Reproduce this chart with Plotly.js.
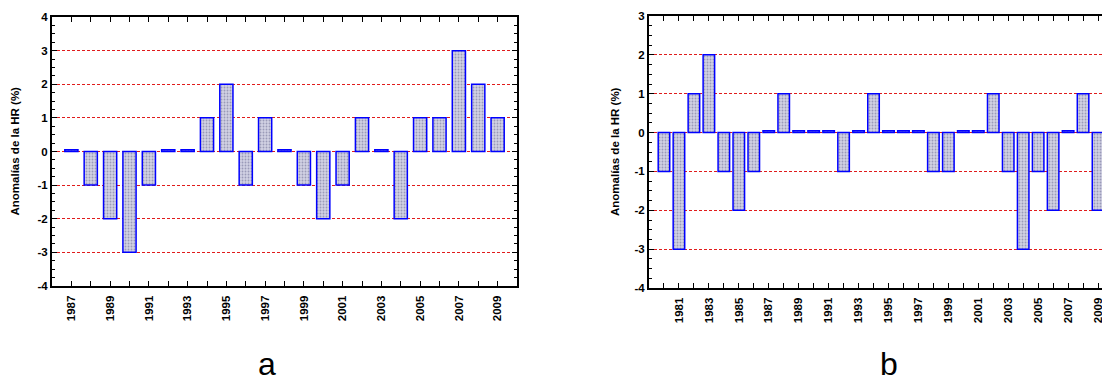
<!DOCTYPE html>
<html>
<head>
<meta charset="utf-8">
<script src="https://cdn.plot.ly/plotly-3.0.1.min.js"></script>
<style>
html,body{margin:0;padding:0;overflow:hidden;background:#fff;}
#chart{width:1130px;height:377px;}
</style>
</head>
<body>
<div id="chart"></div>
<script>
// Panel a data
const yearsA = [1987,1988,1989,1990,1991,1992,1993,1994,1995,1996,1997,1998,1999,2000,2001,2002,2003,2004,2005,2006,2007,2008,2009];
const valuesA = [0.05,-1,-2,-3,-1,0.05,0.05,1,2,-1,1,0.05,-1,-2,-1,1,0.05,-2,1,1,3,2,1];
// Panel b data
const yearsB = [1980,1981,1982,1983,1984,1985,1986,1987,1988,1989,1990,1991,1992,1993,1994,1995,1996,1997,1998,1999,2000,2001,2002,2003,2004,2005,2006,2007,2008,2009];
const valuesB = [-1,-3,1,2,-1,-2,-1,0.05,1,0.05,0.05,0.05,-1,0.05,1,0.05,0.05,0.05,-1,-1,0.05,0.05,1,-1,-3,-1,-2,0.05,1,-2];
const yTicksA = [-4,-3,-2,-1,0,1,2,3,4];
const yTicksB = [-4,-3,-2,-1,0,1,2,3];
const yTitle = 'Anomalías de la HR (%)';
const panelLabels = ['a','b'];

const W = 1130, H = 377;
const fontFam = 'Liberation Sans, Arial, sans-serif';
const tickFont = {family: fontFam, size: 11.5, color: '#000', weight: 'bold'};

function tickTexts(years){
  return years.map(y => (y % 2 === 1) ? String(y) : '');
}

const barMarker = {
  color: '#c6c6dc',
  pattern: {shape: '.', bgcolor: '#d2d2e4', fgcolor: '#9a9ab8', size: 3, solidity: 0.3},
  line: {color: '#0000ff', width: 1.5}
};

const traces = [
  {type:'bar', x: yearsA, y: valuesA, width: 0.68, marker: barMarker, xaxis:'x', yaxis:'y', hoverinfo:'x+y'},
  {type:'bar', x: yearsB, y: valuesB, width: 0.77, marker: barMarker, xaxis:'x2', yaxis:'y2', hoverinfo:'x+y'}
];

function xAxis(domain, range, years){
  return {
    domain: domain, range: range, tickmode:'array', tickvals: years, ticktext: tickTexts(years),
    tickangle: -90, tickfont: tickFont, ticks:'inside', ticklen: 5, tickwidth: 1, tickcolor:'#000',
    ticklabelstandoff: 3,
    showline: true, linecolor:'#000', linewidth: 2, mirror:'allticks', showgrid:false, zeroline:false,
    fixedrange: true
  };
}
function yAxis(domain, range, vals, anchor){
  return {
    domain: domain, range: range, anchor: anchor, tickmode:'array', tickvals: vals, ticktext: vals.map(String),
    tickfont: tickFont, ticks:'inside', ticklen: 5, tickwidth: 1, tickcolor:'#000',
    minor: {dtick: 0.25, ticks:'inside', ticklen: 3, tickcolor:'#000', showgrid:false},
    showline: true, linecolor:'#000', linewidth: 2, mirror:'allticks',
    showgrid: true, gridcolor:'#e01c1c', gridwidth: 1, griddash:'3px,2px', zeroline:false,
    fixedrange: true
  };
}

const layout = {
  width: W, height: H, margin:{l:0,r:0,t:0,b:0}, showlegend:false,
  paper_bgcolor:'#fff', plot_bgcolor:'#fff', bargap: 0,
  xaxis: xAxis([52/W, 517/W], [1986, 2010], yearsA),
  yaxis: yAxis([(H-286)/H, (H-17)/H], [-4, 4], yTicksA, 'x'),
  xaxis2: Object.assign(xAxis([649/W, 1113/W], [1979, 2010], yearsB), {anchor:'y2'}),
  yaxis2: yAxis([(H-288)/H, (H-16)/H], [-4, 3], yTicksB, 'x2'),
  annotations: [
    {xref:'paper', yref:'paper', x: 14/W, y: (H-151.5)/H, text: yTitle, textangle: -90, showarrow:false,
     font:{family: fontFam, size: 11.5, color:'#000', weight:'bold'}, xanchor:'center', yanchor:'middle'},
    {xref:'paper', yref:'paper', x: 615/W, y: (H-152)/H, text: yTitle, textangle: -90, showarrow:false,
     font:{family: fontFam, size: 11.5, color:'#000', weight:'bold'}, xanchor:'center', yanchor:'middle'},
    {xref:'paper', yref:'paper', x: 267/W, y: (H-364)/H, text: panelLabels[0], showarrow:false,
     font:{family: fontFam, size: 32, color:'#000'}, xanchor:'center', yanchor:'middle'},
    {xref:'paper', yref:'paper', x: 889/W, y: (H-364)/H, text: panelLabels[1], showarrow:false,
     font:{family: fontFam, size: 32, color:'#000'}, xanchor:'center', yanchor:'middle'}
  ]
};

Plotly.newPlot('chart', traces, layout, {displayModeBar:false, staticPlot:true});
</script>
</body>
</html>
